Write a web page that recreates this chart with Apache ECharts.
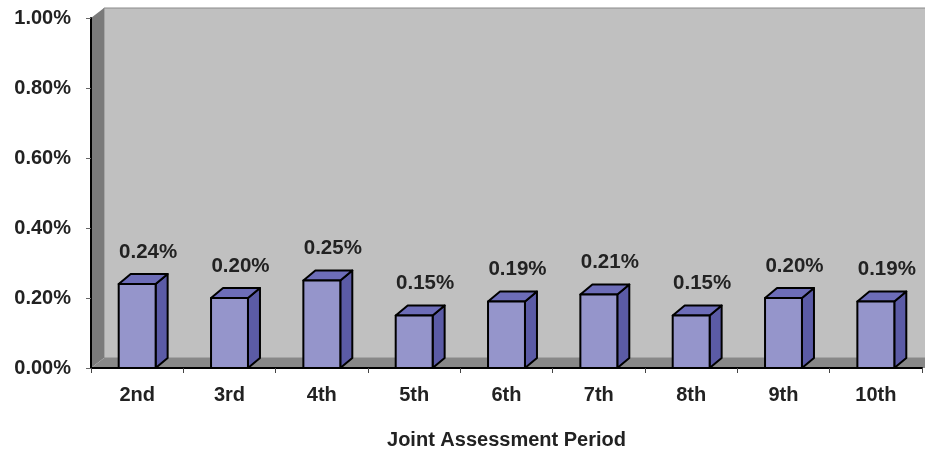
<!DOCTYPE html>
<html>
<head>
<meta charset="utf-8">
<script src="https://cdn.jsdelivr.net/npm/echarts@6/dist/echarts.min.js"></script>
<style>
html,body{margin:0;padding:0;background:#fff;}
#chart{width:925px;height:449px;}
</style>
</head>
<body>
<div id="chart"></div>
<script>
var categories = ['2nd','3rd','4th','5th','6th','7th','8th','9th','10th'];
var values = [0.24, 0.20, 0.25, 0.15, 0.19, 0.21, 0.15, 0.20, 0.19];
var yMax = 1.0;
var yInterval = 0.2;
var axisTitle = 'Joint Assessment Period';

var FONT = '"Liberation Sans", Arial, sans-serif';
var G = {left: 91, right: 3, top: 18, bottom: 81};
var W = 925, H = 449;
var DX = 13, DY = 10;
var gx0 = G.left, gx1 = W - G.right, gy0 = G.top, gy1 = H - G.bottom;

var chart = echarts.init(document.getElementById('chart'));

function fmt(v){ return v.toFixed(2) + '%'; }

var option = {
  animation: false,
  backgroundColor: '#ffffff',
  grid: {left: G.left, right: G.right, top: G.top, bottom: G.bottom, containLabel: false, outerBoundsMode: 'none'},
  graphic: [
    {type: 'rect', z: -10, silent: true,
     shape: {x: gx0 + DX, y: gy0 - DY, width: gx1 - gx0 + 10, height: gy1 - gy0},
     style: {fill: '#c0c0c0', stroke: '#8a8a8a', lineWidth: 1}},
    {type: 'polygon', z: -9, silent: true,
     shape: {points: [[gx0, gy0], [gx0 + DX, gy0 - DY], [gx0 + DX, gy1 - DY], [gx0, gy1]]},
     style: {fill: '#7a7a7a'}},
    {type: 'polygon', z: -9, silent: true,
     shape: {points: [[gx0, gy1], [gx0 + DX, gy1 - DY], [gx1 + DX + 10, gy1 - DY], [gx1 + 10, gy1]]},
     style: {fill: '#888888'}}
  ],
  xAxis: {
    type: 'category',
    data: categories,
    boundaryGap: true,
    axisLine: {show: true, lineStyle: {color: '#000', width: 2}},
    axisTick: {show: true, alignWithLabel: false, length: 5, lineStyle: {color: '#444', width: 1}},
    axisLabel: {margin: 17, fontFamily: FONT, fontWeight: 'bold', fontSize: 20, color: '#222'},
    splitLine: {show: false},
    name: axisTitle,
    nameLocation: 'middle',
    nameGap: 62,
    nameTextStyle: {fontFamily: FONT, fontWeight: 'bold', fontSize: 20, color: '#222'}
  },
  yAxis: {
    type: 'value',
    min: 0,
    max: yMax,
    interval: yInterval,
    axisLine: {show: true, lineStyle: {color: '#000', width: 2}},
    axisTick: {show: true, length: 5, lineStyle: {color: '#666', width: 1}},
    axisLabel: {margin: 20, fontFamily: FONT, fontWeight: 'bold', fontSize: 20, color: '#222',
      padding: [3, 0, 0, 0],
      formatter: function(v){ return fmt(v); }},
    splitLine: {show: false}
  },
  series: [{
    type: 'custom',
    z: 5,
    data: values.map(function(v, i){ return [i, v]; }),
    encode: {x: 0, y: 1},
    renderItem: function(params, api){
      var idx = api.value(0), v = api.value(1);
      var top = api.coord([idx, v]);
      var base = api.coord([idx, 0]);
      var band = api.size([1, 0])[0];
      var w = band * 0.4, d = 12, dy = 10;
      var x0 = top[0] - w / 2, x1 = top[0] + w / 2, y0 = top[1], y1 = base[1];
      var line = {stroke: '#000', lineWidth: 2, lineJoin: 'round'};
      return {
        type: 'group',
        children: [
          {type: 'polygon', shape: {points: [[x1, y0], [x1 + d, y0 - dy], [x1 + d, y1 - dy], [x1, y1]]},
           style: Object.assign({fill: '#5b5ba6'}, line)},
          {type: 'polygon', shape: {points: [[x0, y0], [x0 + d, y0 - dy], [x1 + d, y0 - dy], [x1, y0]]},
           style: Object.assign({fill: '#6d6db8'}, line)},
          {type: 'rect', shape: {x: x0, y: y0, width: w, height: y1 - y0},
           style: Object.assign({fill: '#9595cb'}, line)},
          {type: 'text', style: {text: fmt(v), x: top[0] + 11, y: y0 - 32,
            textAlign: 'center', textVerticalAlign: 'middle',
            font: 'bold 20.5px ' + FONT, fill: '#222'}}
        ]
      };
    }
  }]
};
chart.setOption(option);
</script>
</body>
</html>
